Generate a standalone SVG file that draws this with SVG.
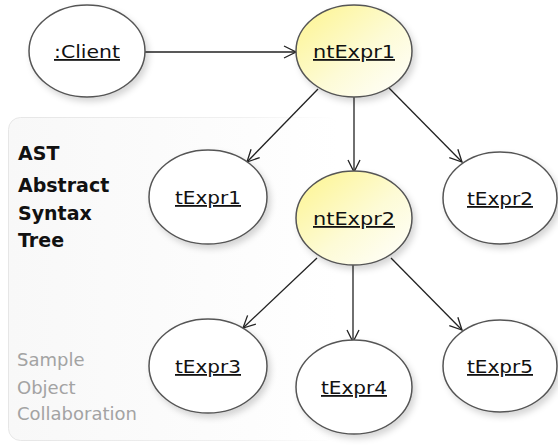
<svg xmlns="http://www.w3.org/2000/svg" width="558" height="447" viewBox="0 0 558 447">
<defs>
<linearGradient id="yel" x1="0" y1="0" x2="1" y2="1">
<stop offset="0" stop-color="#fdf48c"/>
<stop offset="0.55" stop-color="#fdfbd6"/>
<stop offset="1" stop-color="#ffffff"/>
</linearGradient>
<linearGradient id="panel" x1="0" y1="0" x2="1" y2="0">
<stop offset="0" stop-color="#f8f8f8"/>
<stop offset="0.6" stop-color="#fcfcfc"/>
<stop offset="1" stop-color="#ffffff"/>
</linearGradient>
<linearGradient id="panelStroke" x1="0" y1="0" x2="1" y2="0">
<stop offset="0" stop-color="#e6e6e6"/>
<stop offset="0.7" stop-color="#f0f0f0"/>
<stop offset="1" stop-color="#ffffff"/>
</linearGradient>
<filter id="sh" x="-20%" y="-20%" width="150%" height="150%">
<feDropShadow dx="3" dy="4" stdDeviation="3" flood-color="#000" flood-opacity="0.16"/>
</filter>
<marker id="arr" viewBox="0 0 14 14" refX="13" refY="7" markerWidth="14" markerHeight="14" markerUnits="userSpaceOnUse" orient="auto">
<polyline points="1,1 13,7 1,13" fill="none" stroke="#222" stroke-width="1.3"/>
</marker>
</defs>
<style>
.node ellipse{stroke:#555;stroke-width:1.5;filter:url(#sh)}
.plain{fill:#fff}
.nt{fill:url(#yel)}
.lbl{font-family:"DejaVu Sans",Verdana,sans-serif;font-size:18px;fill:#111;text-anchor:middle;text-decoration:underline}
.title{font-family:"DejaVu Sans",Verdana,sans-serif;font-size:19px;font-weight:bold;fill:#111}
.sub{font-family:"DejaVu Sans",Verdana,sans-serif;font-size:18px;fill:#a3a3a3}
#edges line{stroke:#222;stroke-width:1.3;marker-end:url(#arr)}
</style>
<g id="panel-ast">
<rect x="8.5" y="117.5" width="330" height="323" rx="12" fill="url(#panel)" stroke="url(#panelStroke)" stroke-width="1"/>
<text class="title" x="18" y="160">AST</text>
<text class="title" x="18" y="192">Abstract</text>
<text class="title" x="18" y="220">Syntax</text>
<text class="title" x="18" y="247">Tree</text>
<text class="sub" x="17" y="366">Sample</text>
<text class="sub" x="17" y="394">Object</text>
<text class="sub" x="17" y="420">Collaboration</text>
</g>
<g id="edges">
<line x1="145" y1="52" x2="296" y2="52"/>
<line x1="318" y1="89" x2="247" y2="162"/>
<line x1="354" y1="97" x2="354" y2="172"/>
<line x1="389" y1="88" x2="462" y2="162"/>
<line x1="317" y1="258" x2="243" y2="328"/>
<line x1="353" y1="265" x2="353" y2="342"/>
<line x1="391" y1="258" x2="462" y2="330"/>
</g>
<g id="client" class="node">
<ellipse class="plain" cx="87" cy="51" rx="58" ry="46"/>
<text class="lbl" x="87" y="58" textLength="66" lengthAdjust="spacingAndGlyphs">:Client</text>
</g>
<g id="ntExpr1" class="node">
<ellipse class="nt" cx="354" cy="51" rx="58" ry="46"/>
<text class="lbl" x="354" y="58" textLength="82" lengthAdjust="spacingAndGlyphs">ntExpr1</text>
</g>
<g id="tExpr1" class="node">
<ellipse class="plain" cx="208" cy="197" rx="59" ry="47"/>
<text class="lbl" x="208" y="204" textLength="66" lengthAdjust="spacingAndGlyphs">tExpr1</text>
</g>
<g id="ntExpr2" class="node">
<ellipse class="nt" cx="354" cy="218" rx="58" ry="47"/>
<text class="lbl" x="354" y="225" textLength="82" lengthAdjust="spacingAndGlyphs">ntExpr2</text>
</g>
<g id="tExpr2" class="node">
<ellipse class="plain" cx="500" cy="198" rx="57" ry="46"/>
<text class="lbl" x="500" y="205" textLength="66" lengthAdjust="spacingAndGlyphs">tExpr2</text>
</g>
<g id="tExpr3" class="node">
<ellipse class="plain" cx="208" cy="366" rx="59" ry="47"/>
<text class="lbl" x="208" y="373" textLength="66" lengthAdjust="spacingAndGlyphs">tExpr3</text>
</g>
<g id="tExpr4" class="node">
<ellipse class="plain" cx="354" cy="387" rx="58" ry="47"/>
<text class="lbl" x="354" y="394" textLength="66" lengthAdjust="spacingAndGlyphs">tExpr4</text>
</g>
<g id="tExpr5" class="node">
<ellipse class="plain" cx="500" cy="366" rx="57" ry="46"/>
<text class="lbl" x="500" y="373" textLength="66" lengthAdjust="spacingAndGlyphs">tExpr5</text>
</g>
</svg>
